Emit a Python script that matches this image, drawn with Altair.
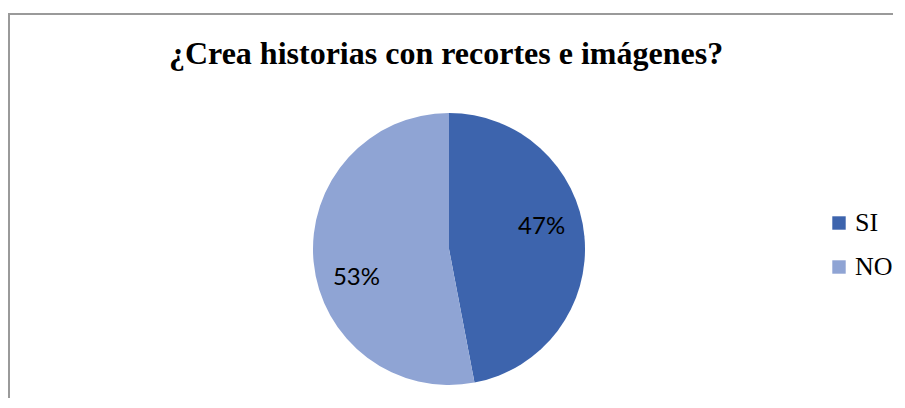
import altair as alt
import pandas as pd

titulo = "¿Crea historias con recortes e imágenes?"
categorias = ["SI", "NO"]
valores = [47, 53]
etiquetas = ["47%", "53%"]
colores = ["#3d64ad", "#8fa4d4"]

df = pd.DataFrame({
    "categoria": categorias,
    "valor": valores,
    "etiqueta": etiquetas,
    "orden": list(range(len(categorias))),
})
total = sum(valores)

W, H = 885, 390
CX, CY, R = 441, 241, 136

base = alt.Chart(df)

color = alt.Color(
    "categoria:N",
    scale=alt.Scale(domain=categorias, range=colores),
    legend=alt.Legend(
        title=None,
        orient="none",
        legendX=818,
        legendY=202,
        symbolType="square",
        symbolSize=180,
        symbolStrokeWidth=0,
        labelFont="Liberation Serif",
        labelFontSize=26,
        labelColor="#000000",
        labelOffset=3,
        labelLimit=100,
        rowPadding=18,
        padding=0,
    ),
)

pie = base.mark_arc(outerRadius=R, stroke=None).encode(
    theta=alt.Theta("valor:Q", stack=True),
    color=color,
    order=alt.Order("orden:Q"),
).encode(x=alt.value(CX), y=alt.value(CY))

lab_base = base.transform_stack(
    stack="valor", groupby=[], as_=["v0", "v1"], sort=[alt.SortField("orden")]
).transform_calculate(mid="(datum.v0 + datum.v1) / 2")

def label(cat, dx, dy):
    return lab_base.transform_filter(alt.datum.categoria == cat).mark_text(
        radius=93, font="Lato", fontSize=24, color="#000000", dx=dx, dy=dy,
        align="center", baseline="middle",
    ).encode(
        theta=alt.Theta("mid:Q", stack=False, scale=alt.Scale(domain=[0, total], range=[0, 6.283185307])),
        text="etiqueta:N",
        x=alt.value(CX), y=alt.value(CY),
    )

lab_si = label("SI", 0, -13)
lab_no = label("NO", 0, 20)

title_df = pd.DataFrame({"t": [titulo]})
title = alt.Chart(title_df).mark_text(
    font="Liberation Serif", fontSize=32, fontWeight="bold", color="#000000",
    align="center", baseline="alphabetic",
).encode(text="t:N", x=alt.value(CX - 3), y=alt.value(56))

frame = alt.Chart(title_df).mark_rect(
    fill=None, filled=False, stroke="#9a9a9a", strokeWidth=2
).encode(x=alt.value(1), x2=alt.value(W + 20), y=alt.value(6), y2=alt.value(H + 20))

chart = alt.layer(frame, pie, lab_si, lab_no, title).properties(
    width=W, height=H, autosize=alt.AutoSizeParams(type="none"), padding=0,
).configure_view(stroke=None)

chart.save("out.html", embed_options={"renderer": "svg", "actions": False})
